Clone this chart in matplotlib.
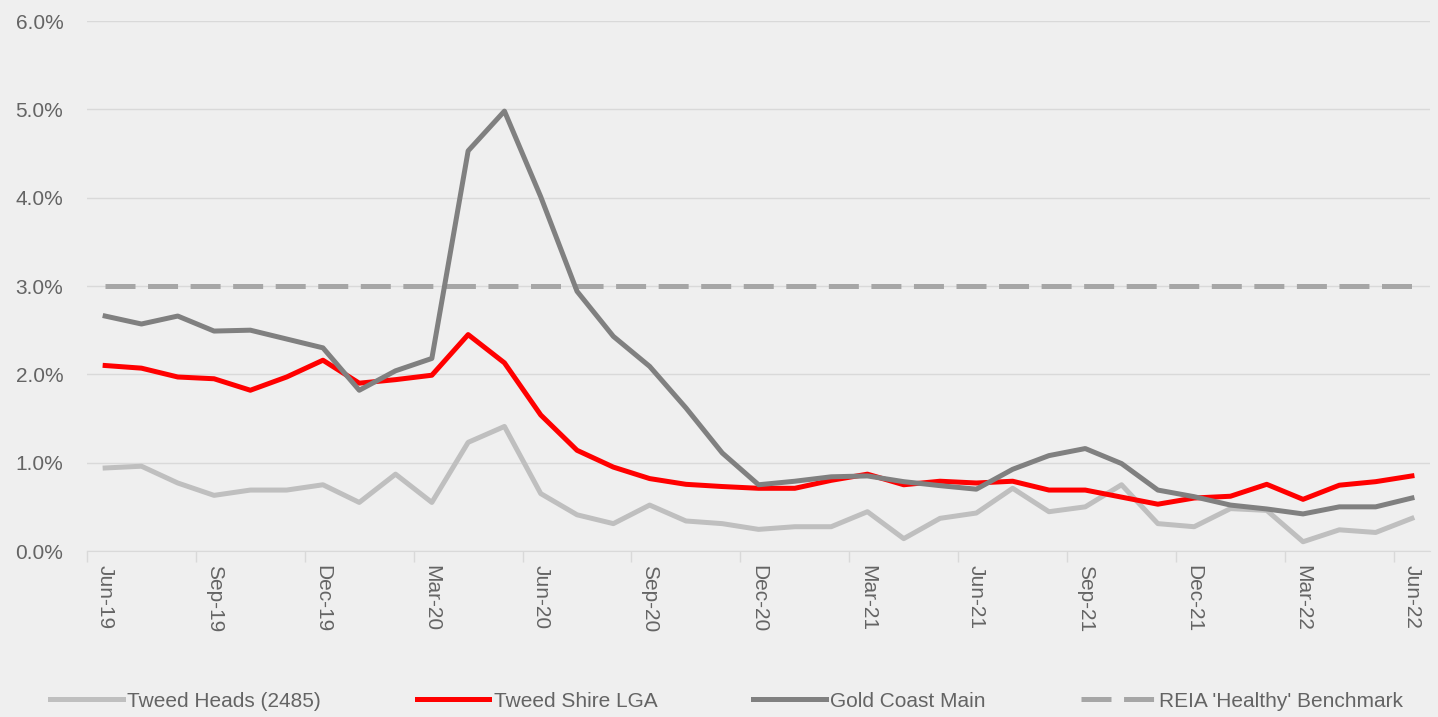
"""Vacancy rate comparison: Tweed Heads vs Tweed Shire vs Gold Coast."""

import matplotlib
matplotlib.use("Agg")
import matplotlib.pyplot as plt
import pandas as pd

# monthly vacancy rates (%), Jun-19 .. Jun-22
months = pd.date_range("2019-06-01", periods=37, freq="MS").strftime("%b-%y").tolist()

tweed_heads = [0.94, 0.96, 0.77, 0.63, 0.69, 0.69, 0.75, 0.55, 0.87, 0.55,
               1.23, 1.41, 0.65, 0.41, 0.31, 0.52, 0.34, 0.31, 0.245, 0.275,
               0.275, 0.445, 0.14, 0.37, 0.43, 0.71, 0.445, 0.50, 0.75, 0.31,
               0.275, 0.48, 0.46, 0.105, 0.24, 0.21, 0.37]

tweed_shire = [2.10, 2.07, 1.97, 1.95, 1.82, 1.97, 2.16, 1.90, 1.94, 1.99,
               2.45, 2.13, 1.54, 1.14, 0.95, 0.82, 0.755, 0.73, 0.71, 0.71,
               0.80, 0.87, 0.75, 0.79, 0.77, 0.79, 0.69, 0.69, 0.61, 0.53,
               0.60, 0.62, 0.755, 0.585, 0.745, 0.785, 0.85]

gold_coast = [2.66, 2.57, 2.66, 2.49, 2.50, 2.40, 2.30, 1.82, 2.04, 2.18,
              4.53, 4.98, 4.01, 2.94, 2.43, 2.09, 1.62, 1.11, 0.75, 0.79,
              0.84, 0.85, 0.785, 0.74, 0.70, 0.925, 1.08, 1.16, 0.99, 0.69,
              0.615, 0.52, 0.476, 0.42, 0.50, 0.50, 0.60]

benchmark = [3.0] * len(months)

y_ticks = [0, 1, 2, 3, 4, 5, 6]

BG = "#efefef"
TEXT = "#646464"
GRID = "#d9d9d9"

plt.rcParams["font.family"] = ["Liberation Sans", "DejaVu Sans"]

fig = plt.figure(figsize=(14.38, 7.17), dpi=100, facecolor=BG)
ax = fig.add_axes([0.0605, 0.2315, 0.934, 0.7392], facecolor=BG)

x = list(range(len(months)))
lw = 3.6
ax.plot(x, tweed_heads, color="#bfbfbf", lw=lw, solid_joinstyle="round",
        label="Tweed Heads (2485)", zorder=3)
ax.plot(x, tweed_shire, color="#ff0000", lw=lw, solid_joinstyle="round",
        label="Tweed Shire LGA", zorder=4)
ax.plot(x, gold_coast, color="#808080", lw=lw, solid_joinstyle="round",
        label="Gold Coast Main", zorder=5)
ax.plot(x, benchmark, color="#a6a6a6", lw=lw, dashes=(6, 2.51),
        label="REIA 'Healthy' Benchmark", zorder=2)

ax.set_ylim(0, 6)
ax.set_xlim(-0.5, len(months) - 0.5)
ax.set_yticks(y_ticks)
ax.set_yticklabels([f"{v:.1f}%" for v in y_ticks])
ax.grid(axis="y", color=GRID, lw=1)
ax.set_axisbelow(True)

ax.set_xticks(x[::3])
ax.set_xticklabels(months[::3], rotation=270, ha="center", va="top")
ax.set_xticks([i - 0.5 for i in range(0, len(months) + 1, 3)], minor=True)
ax.tick_params(axis="x", which="major", length=0, pad=10, labelsize=15, labelcolor=TEXT)
ax.tick_params(axis="x", which="minor", length=8, color=GRID, width=1)
ax.tick_params(axis="y", length=0, pad=17, labelsize=15, labelcolor=TEXT)

for side in ["top", "right", "left"]:
    ax.spines[side].set_visible(False)
ax.spines["bottom"].set_color(GRID)

leg = fig.legend(loc="center", bbox_to_anchor=(0.505, 0.022), ncol=4,
                 frameon=False, fontsize=15, handlelength=3.5, handletextpad=0.2,
                 columnspacing=4.6)
for t in leg.get_texts():
    t.set_color(TEXT)

fig.savefig("out.png", dpi=100, facecolor=BG)
